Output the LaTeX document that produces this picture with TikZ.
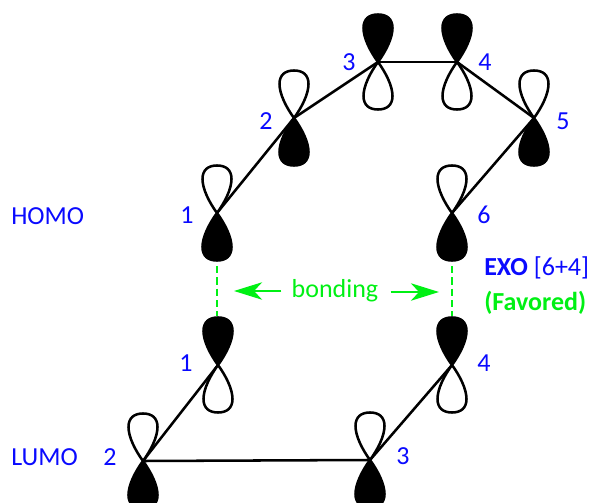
\documentclass[tikz,border=0pt]{standalone}
\usepackage{xcolor}
\usepackage{fontspec}
\setmainfont{Carlito}
\usetikzlibrary{arrows.meta}
\definecolor{labelblue}{RGB}{10,10,255}
\definecolor{bondgreen}{RGB}{0,240,20}
\newcommand{\labelsize}{\fontsize{19.5}{21}\selectfont}
\tikzset{
	bond/.style={line width=1.9pt,line cap=round},
	numlabel/.style={text=labelblue,font=\labelsize,inner sep=0pt},
	side/.style={text=labelblue,font=\labelsize,inner sep=0pt,anchor=west},
	overlap/.style={draw=bondgreen,line width=2.2pt,dash pattern=on 5.5pt off 3pt},
	attract/.style={draw=bondgreen,line width=2.2pt,-{Stealth[length=21pt,width=13pt,inset=6pt]}},
	lobe/.pic={
		\path[pic actions,line width=1.9pt,line join=round] (0,0)
			.. controls (-8,-11) and (-14.5,-24) .. (-14.5,-34)
			.. controls (-14.5,-43) and (-9,-47.5) .. (0,-47.5)
			.. controls (9,-47.5) and (14.5,-43) .. (14.5,-34)
			.. controls (14.5,-24) and (8,-11) .. (0,0) -- cycle;
	},
}
% #1 = atom, #2 = upper lobe fill, #3 = lower lobe fill
\newcommand{\orbital}[3]{
	\pic[draw=black,fill=#2] at (#1) {lobe};
	\pic[draw=black,fill=#3,rotate=180] at (#1) {lobe};
}
\begin{document}
\begin{tikzpicture}[x=0.75pt,y=-0.75pt]
	\useasboundingbox (0,0) rectangle (590,503);
	\clip (0,0) rectangle (590,503);
	\coordinate (H1) at (217,213);
	\coordinate (H2) at (294,118);
	\coordinate (H3) at (378,62);
	\coordinate (H4) at (457,62);
	\coordinate (H5) at (534,118);
	\coordinate (H6) at (452,213);
	\coordinate (L1) at (218,365);
	\coordinate (L2) at (143,461);
	\coordinate (L3) at (370,460);
	\coordinate (L4) at (452,365);
	% sigma frame
	\draw[bond] (H1) -- (H2);
	\draw[bond] (H2) -- (H3);
	\draw[bond] (H3) -- (H4);
	\draw[bond] (H4) -- (H5);
	\draw[bond] (H5) -- (H6);
	\draw[bond] (L1) -- (L2);
	\draw[bond] (L2) -- (L3);
	\draw[bond] (L3) -- (L4);
	% p orbitals
	\orbital{H1}{white}{black}
	\orbital{H2}{white}{black}
	\orbital{H3}{black}{white}
	\orbital{H4}{black}{white}
	\orbital{H5}{white}{black}
	\orbital{H6}{white}{black}
	\orbital{L1}{black}{white}
	\orbital{L2}{white}{black}
	\orbital{L3}{white}{black}
	\orbital{L4}{black}{white}
	% atom numbers
	\node[numlabel] (n1) at (187,215) {1};
	\node[numlabel] (n2) at (266,121) {2};
	\node[numlabel] (n3) at (349,62) {3};
	\node[numlabel] (n4) at (485,62) {4};
	\node[numlabel] (n5) at (563,121) {5};
	\node[numlabel] (n6) at (484,215) {6};
	\node[numlabel] (m1) at (186,363) {1};
	\node[numlabel] (m2) at (110,457) {2};
	\node[numlabel] (m3) at (403,456) {3};
	\node[numlabel] (m4) at (484,363) {4};
	\node[side] (homo) at (11,216) {HOMO};
	\node[side] (lumo) at (11,457) {LUMO};
	\node[side] (exo) at (484,268) {\textbf{EXO} [6+4]};
	\node[side,text=bondgreen] (favored) at (484,303) {\textbf{(Favored)}};
	% bonding overlap
	\coordinate (D1) at (217,266);
	\coordinate (D2) at (217,316);
	\coordinate (D3) at (452,266);
	\coordinate (D4) at (452,316);
	\draw[overlap] (D1) -- (D2);
	\draw[overlap] (D3) -- (D4);
	\node[text=bondgreen,font=\labelsize,inner sep=0pt] (bonding) at (335,291) {bonding};
	\coordinate (A1) at (234,291);
	\coordinate (A2) at (439,292);
	\draw[attract] (bonding.west |- A1) ++(-10,0) coordinate (B1) -- (A1);
	\draw[attract] (bonding.east |- A2) ++(12,0) coordinate (B2) -- (A2);
\end{tikzpicture}
\end{document}
